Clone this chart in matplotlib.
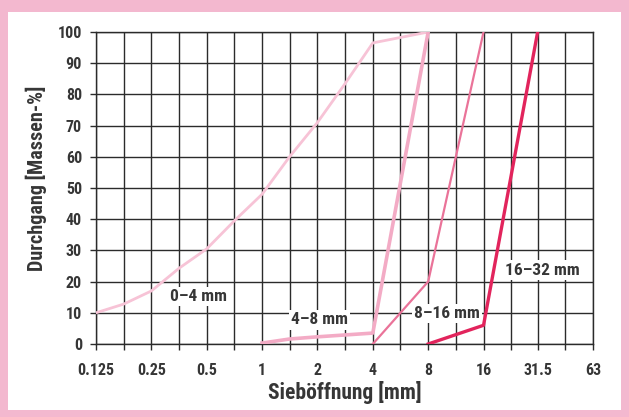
import matplotlib
matplotlib.use('Agg')
import matplotlib.pyplot as plt
from matplotlib.patches import Rectangle
from matplotlib.ticker import FixedLocator, NullFormatter
import numpy as np

plt.rcParams['font.family'] = ['Roboto Condensed', 'Liberation Sans']

# sieve sizes [mm] and passing [mass-%]
sizes_0_4 = [0.125, 0.177, 0.25, 0.354, 0.5, 0.707, 1, 1.41, 2, 2.83, 4, 8]
pass_0_4 = [10, 12.8, 17, 24.3, 30.5, 39.5, 48, 60, 71, 83.5, 96.5, 100]

sizes_4_8 = [1, 1.41, 2, 4, 8]
pass_4_8 = [0.3, 1.6, 2.3, 3.5, 100]

sizes_8_16 = [4, 8, 16]
pass_8_16 = [0, 20, 100]

sizes_16_32 = [8, 16, 31.5]
pass_16_32 = [0, 6, 100]

x_ticks = [0.125, 0.25, 0.5, 1, 2, 4, 8, 16, 31.5, 63]
x_tick_labels = ['0.125', '0.25', '0.5', '1', '2', '4', '8', '16', '31.5', '63']
y_ticks = list(range(0, 101, 10))

txt = '#363636'

fig = plt.figure(figsize=(6.29, 4.17), dpi=100)
fig.patch.set_facecolor('#f3b8cf')
# white panel behind the chart
fig.patches.append(Rectangle((8 / 629, 1 - 410 / 417), 613 / 629, 398 / 417,
                             transform=fig.transFigure, facecolor='white',
                             edgecolor='none', zorder=-10))

ax = fig.add_axes([96 / 629, 1 - 344 / 417, 497 / 629, 312 / 417])
ax.set_facecolor('white')
ax.set_xscale('log', base=2)
ax.set_xlim(0.125, 63)
ax.set_ylim(0, 100)

ax.xaxis.set_major_locator(FixedLocator(x_ticks))
ax.set_xticklabels(x_tick_labels)
minor = [np.sqrt(a * b) for a, b in zip(x_ticks[:-1], x_ticks[1:])]
ax.xaxis.set_minor_locator(FixedLocator(minor))
ax.xaxis.set_minor_formatter(NullFormatter())
ax.set_yticks(y_ticks)

ax.grid(True, which='both', color='#2b2b2b', linewidth=1.0, zorder=1)
for s in ax.spines.values():
    s.set_color('#2b2b2b')
    s.set_linewidth(1.0)

ax.tick_params(axis='both', which='both', length=4, width=1.0, color='#2b2b2b',
               labelcolor=txt, labelsize=11.5)
ax.tick_params(axis='x', pad=10)
ax.tick_params(axis='y', pad=6)
for lab in ax.get_xticklabels() + ax.get_yticklabels():
    lab.set_fontweight('bold')

ax.plot(sizes_0_4, pass_0_4, color='#f7c3d6', linewidth=2.0, zorder=3)
ax.plot(sizes_4_8, pass_4_8, color='#f3abc5', linewidth=2.6, zorder=3)
ax.plot(sizes_8_16, pass_8_16, color='#ea7399', linewidth=1.6, zorder=3)
ax.plot(sizes_16_32, pass_16_32, color='#e2245c', linewidth=2.4, zorder=3)

box = dict(facecolor='white', edgecolor='none', pad=1.5)
lab_kw = dict(ha='center', va='center', fontsize=12.5, fontweight='bold',
              color=txt, bbox=box, zorder=4)
ax.text(0.453, 15.2, '0–4 mm', **lab_kw)
ax.text(2.06, 7.7, '4–8 mm', **lab_kw)
ax.text(10.1, 9.8, '8–16 mm', **lab_kw)
ax.text(33.6, 23.7, '16–32 mm', **lab_kw)

fig.text(345 / 629, 1 - 393 / 417, 'Sieböffnung [mm]', ha='center', va='center',
         fontsize=15.5, fontweight='bold', color=txt)
fig.text(36 / 629, 1 - 178 / 417, 'Durchgang [Massen-%]', ha='center', va='center',
         rotation=90, fontsize=14.5, fontweight='bold', color=txt)

fig.savefig('out.png', dpi=100, facecolor=fig.get_facecolor())
